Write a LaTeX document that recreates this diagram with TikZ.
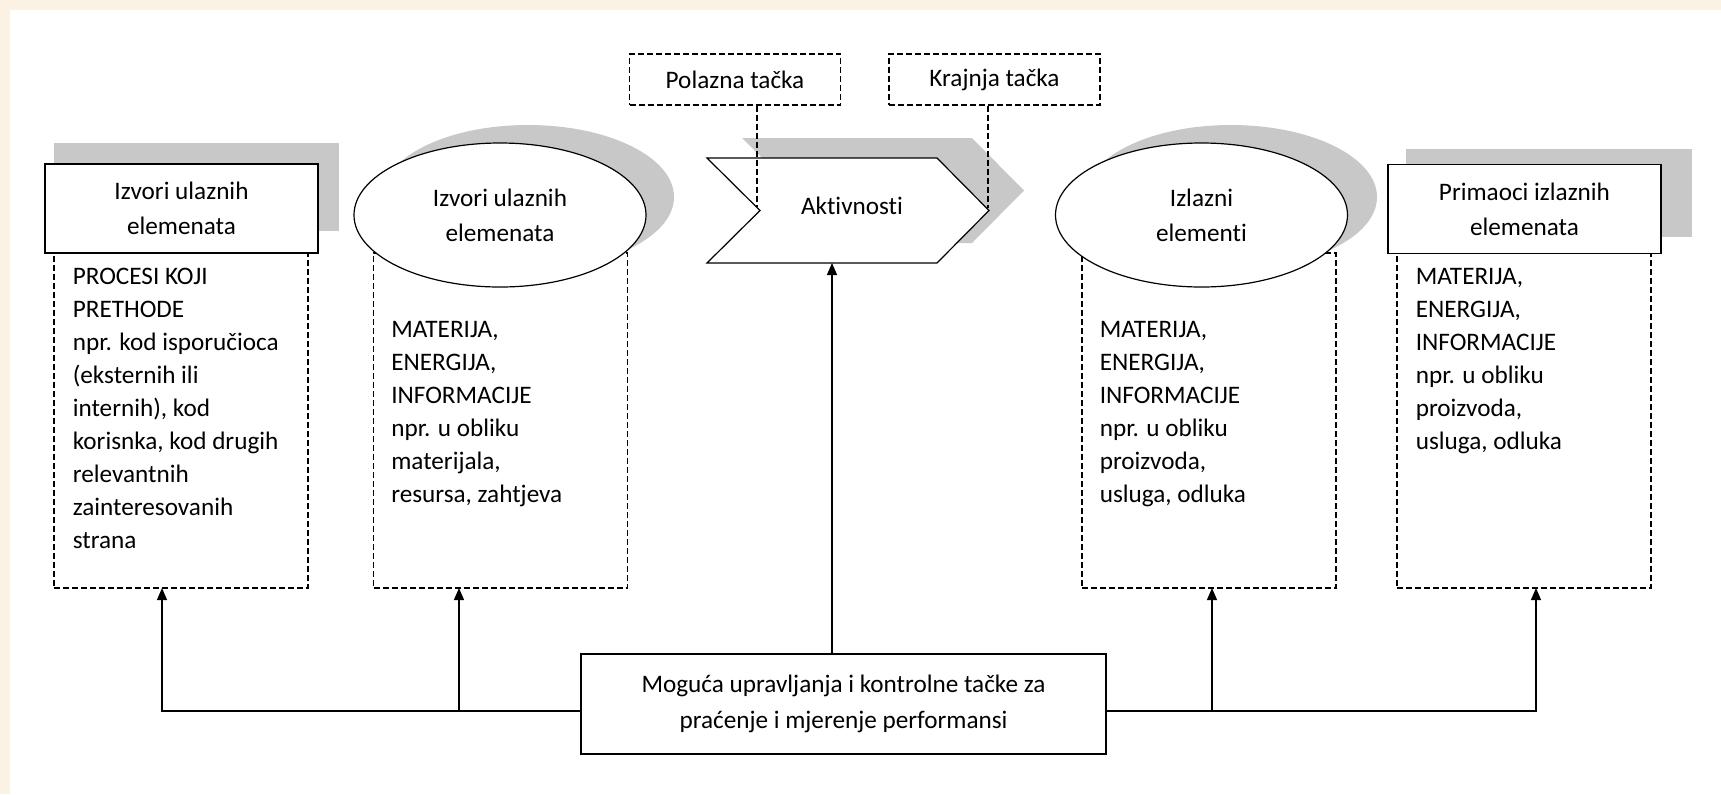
\documentclass[tikz,border=0pt]{standalone}
\usepackage{fontspec}
\setmainfont{Carlito}[Ligatures=NoCommon]
\usetikzlibrary{arrows.meta,shapes.geometric}
\definecolor{cream}{RGB}{251,242,228}
\definecolor{shadowgray}{RGB}{200,200,200}
\begin{document}
\begin{tikzpicture}[x=0.5pt,y=-0.5pt,
				font=\fontsize{12.6}{16.5}\selectfont,
				titlebox/.style={draw,fill=white,line width=0.75pt,minimum width=136.5pt,minimum height=44.5pt,inner sep=0pt,align=center,font=\fontsize{12.6}{17.5}\selectfont},
				titleoval/.style={ellipse,draw,fill=white,line width=0.6pt,minimum width=146pt,minimum height=72pt,inner sep=0pt,align=center,font=\fontsize{12.6}{17.5}\selectfont},
				shadowoval/.style={ellipse,fill=shadowgray,minimum width=146pt,minimum height=72pt},
				listbox/.style={draw,dash pattern=on 3pt off 1.5pt,line width=0.6pt,minimum width=127pt,minimum height=167.5pt},
				listtext/.style={anchor=north west,inner sep=0pt,align=left},
				markbox/.style={draw,dash pattern=on 3pt off 1.5pt,line width=0.6pt,minimum width=105.5pt,minimum height=25.5pt},
				dashline/.style={dash pattern=on 3pt off 1.5pt,line width=0.6pt},
				arr/.style={line width=0.6pt,-{Triangle[length=6pt,width=5pt]}}]
\useasboundingbox (0,0) rectangle (1721,794);
\fill[cream] (0,0) rectangle (1721,794);
\fill[white] (10,10) rectangle (1721,794);
\node[listbox] (b1) at (181,420.5) {};
\node[listbox] (b2) at (500.5,420.5) {};
\node[listbox] (b3) at (1209,420.5) {};
\node[listbox] (b4) at (1524,420.5) {};
\fill[shadowgray] (54,143) rectangle (339,231);
\fill[shadowgray] (1406,149) rectangle (1692,237);
\node[shadowoval] at (528,197) {};
\node[shadowoval] at (1231,197) {};
\fill[shadowgray,shift={(35,-20)}] (707,158) -- (937,158) -- (989,210.5) -- (937,263) -- (707,263) -- (760,210.5) -- cycle;
\node[titlebox] (r1) at (181.5,208.5) {Izvori ulaznih\\elemenata};
\node[titleoval] (o1) at (500,215) {Izvori ulaznih\\elemenata};
\draw[fill=white,line width=0.6pt] (707,158) -- (937,158) -- (989,210.5) -- (937,263) -- (707,263) -- (760,210.5) -- cycle;
\node (act) at (852,206) {Aktivnosti};
\node[titleoval] (o2) at (1201.5,215) {Izlazni\\elementi};
\node[titlebox] (r2) at (1524.5,209) {Primaoci izlaznih\\elemenata};
\node[markbox] (pol) at (735,79.5) {Polazna tačka};
\node[markbox] (kraj) at (994.5,79.5) {Krajnja tačka};
\coordinate (pn) at (757,207);
\coordinate (kn) at (988,208);
\draw[dashline] (pol.south -| pn) -- (pn);
\draw[dashline] (kraj.south -| kn) -- (kn);
\node[listtext] (t1) at ([shift={(19,15)}]b1.north west) {PROCESI KOJI\\PRETHODE\\npr. kod isporučioca\\(eksternih ili\\internih), kod\\korisnka, kod drugih\\relevantnih\\zainteresovanih\\strana};
\node[listtext] (t2) at ([shift={(18,69)}]b2.north west) {MATERIJA,\\ENERGIJA,\\INFORMACIJE\\npr. u obliku\\materijala,\\resursa, zahtjeva};
\node[listtext] (t3) at ([shift={(18,69)}]b3.north west) {MATERIJA,\\ENERGIJA,\\INFORMACIJE\\npr. u obliku\\proizvoda,\\usluga, odluka};
\node[listtext] (t4) at ([shift={(19,16)}]b4.north west) {MATERIJA,\\ENERGIJA,\\INFORMACIJE\\npr. u obliku\\proizvoda,\\usluga, odluka};
\node[draw,line width=0.75pt,minimum width=262.5pt,minimum height=50pt,align=center,font=\fontsize{12.6}{18.3}\selectfont] (ctrl) at (843.5,704) {Moguća upravljanja i kontrolne tačke za\\praćenje i mjerenje performansi};
\coordinate (hl) at (0,711);
\coordinate (a1) at (162,588);
\coordinate (a2) at (459,588);
\coordinate (a3) at (1212,588);
\coordinate (a4) at (1536,588);
\coordinate (ab) at (832,263);
\draw[arr] (ctrl.west |- hl) -| (a1);
\draw[arr] (a2 |- hl) -- (a2);
\draw[arr] (ctrl.east |- hl) -| (a4);
\draw[arr] (a3 |- hl) -- (a3);
\draw[arr] (ctrl.north -| ab) -- (ab);
\end{tikzpicture}
\end{document}
